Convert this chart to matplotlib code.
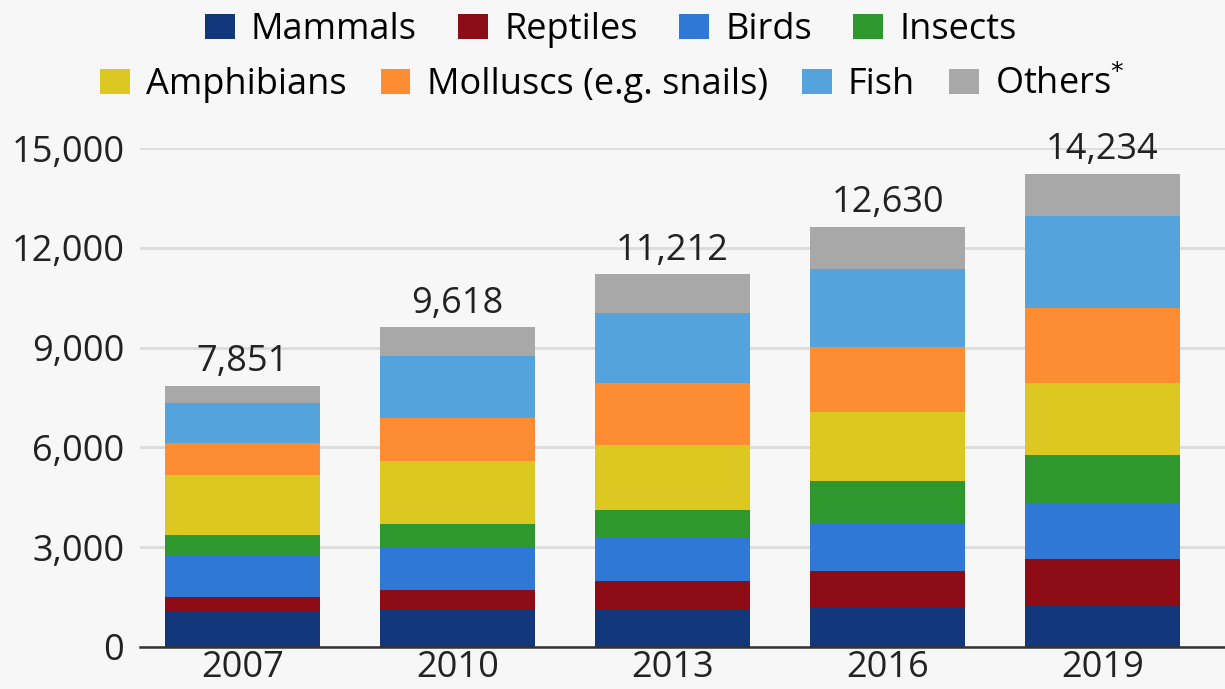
import matplotlib
matplotlib.use('Agg')
import matplotlib.pyplot as plt
import numpy as np

plt.rcParams['font.family'] = ['Open Sans', 'DejaVu Sans']

# Threatened animal species by group (stacked bottom -> top)
years = ['2007', '2010', '2013', '2016', '2019']
groups = ['Mammals', 'Reptiles', 'Birds', 'Insects',
          'Amphibians', 'Molluscs (e.g. snails)', 'Fish', 'Others$^{*}$']
mammals    = [1094, 1131, 1140, 1194, 1250]
reptiles   = [422,  594,  847,  1079, 1400]
birds      = [1217, 1240, 1308, 1460, 1670]
insects    = [623,  733,  831,  1268, 1440]
amphibians = [1808, 1898, 1950, 2068, 2190]
molluscs   = [978,  1288, 1858, 1950, 2250]
fish       = [1201, 1851, 2110, 2359, 2770]
others     = [508,  883,  1168, 1252, 1264]
totals     = [7851, 9618, 11212, 12630, 14234]

colors = ['#12377b', '#8e0c16', '#3078d6', '#2e982e',
          '#dcc821', '#fd8c33', '#54a3dc', '#a8a8a8']
series = [mammals, reptiles, birds, insects, amphibians, molluscs, fish, others]

bg = '#f7f7f7'
fs = 26
fig = plt.figure(figsize=(12.25, 6.89), dpi=100, facecolor=bg)
ax = fig.add_axes([0.114, 0.061, 0.886, 0.724], facecolor=bg)

x = np.arange(len(years))
bottom = np.zeros(len(years))
handles = []
for vals, col, name in zip(series, colors, groups):
    b = ax.bar(x, vals, 0.72, bottom=bottom, color=col, label=name, zorder=2)
    handles.append(b)
    bottom += np.array(vals)

for xi, t in zip(x, totals):
    ax.annotate(f'{t:,}', (xi, t), xytext=(0, 4), textcoords='offset points',
                ha='center', va='bottom', fontsize=fs, color='#222222')

ax.set_xlim(-0.48, 4.57)
ax.set_ylim(0, 15000)
ax.set_yticks([0, 3000, 6000, 9000, 12000, 15000])
ax.yaxis.set_major_formatter(matplotlib.ticker.FuncFormatter(lambda v, p: f'{int(v):,}'))
ax.set_xticks(x)
ax.set_xticklabels(years)
ax.tick_params(axis='both', length=0, labelsize=fs, colors='#222222')
ax.tick_params(axis='y', pad=11)
ax.tick_params(axis='x', pad=2)
ax.grid(axis='y', color='#dcdcdc', linewidth=2, zorder=0)
for s in ['top', 'right', 'left']:
    ax.spines[s].set_visible(False)
ax.spines['bottom'].set_color('#333333')
ax.spines['bottom'].set_linewidth(1.8)
ax.spines['bottom'].set_zorder(3)

leg_kw = dict(frameon=False, fontsize=26, handlelength=0.82, handleheight=0.68,
              handletextpad=0.45, borderpad=0, borderaxespad=0, ncol=4)
leg1 = fig.legend(handles[:4], groups[:4], loc='center left', columnspacing=1.15,
                  bbox_to_anchor=(205 / 1225, 1 - 30 / 689), **leg_kw)
leg2 = fig.legend(handles[4:], groups[4:], loc='center left', columnspacing=0.95,
                  bbox_to_anchor=(100 / 1225, 1 - 85 / 689), **leg_kw)

fig.savefig('out.png', dpi=100, facecolor=bg)
